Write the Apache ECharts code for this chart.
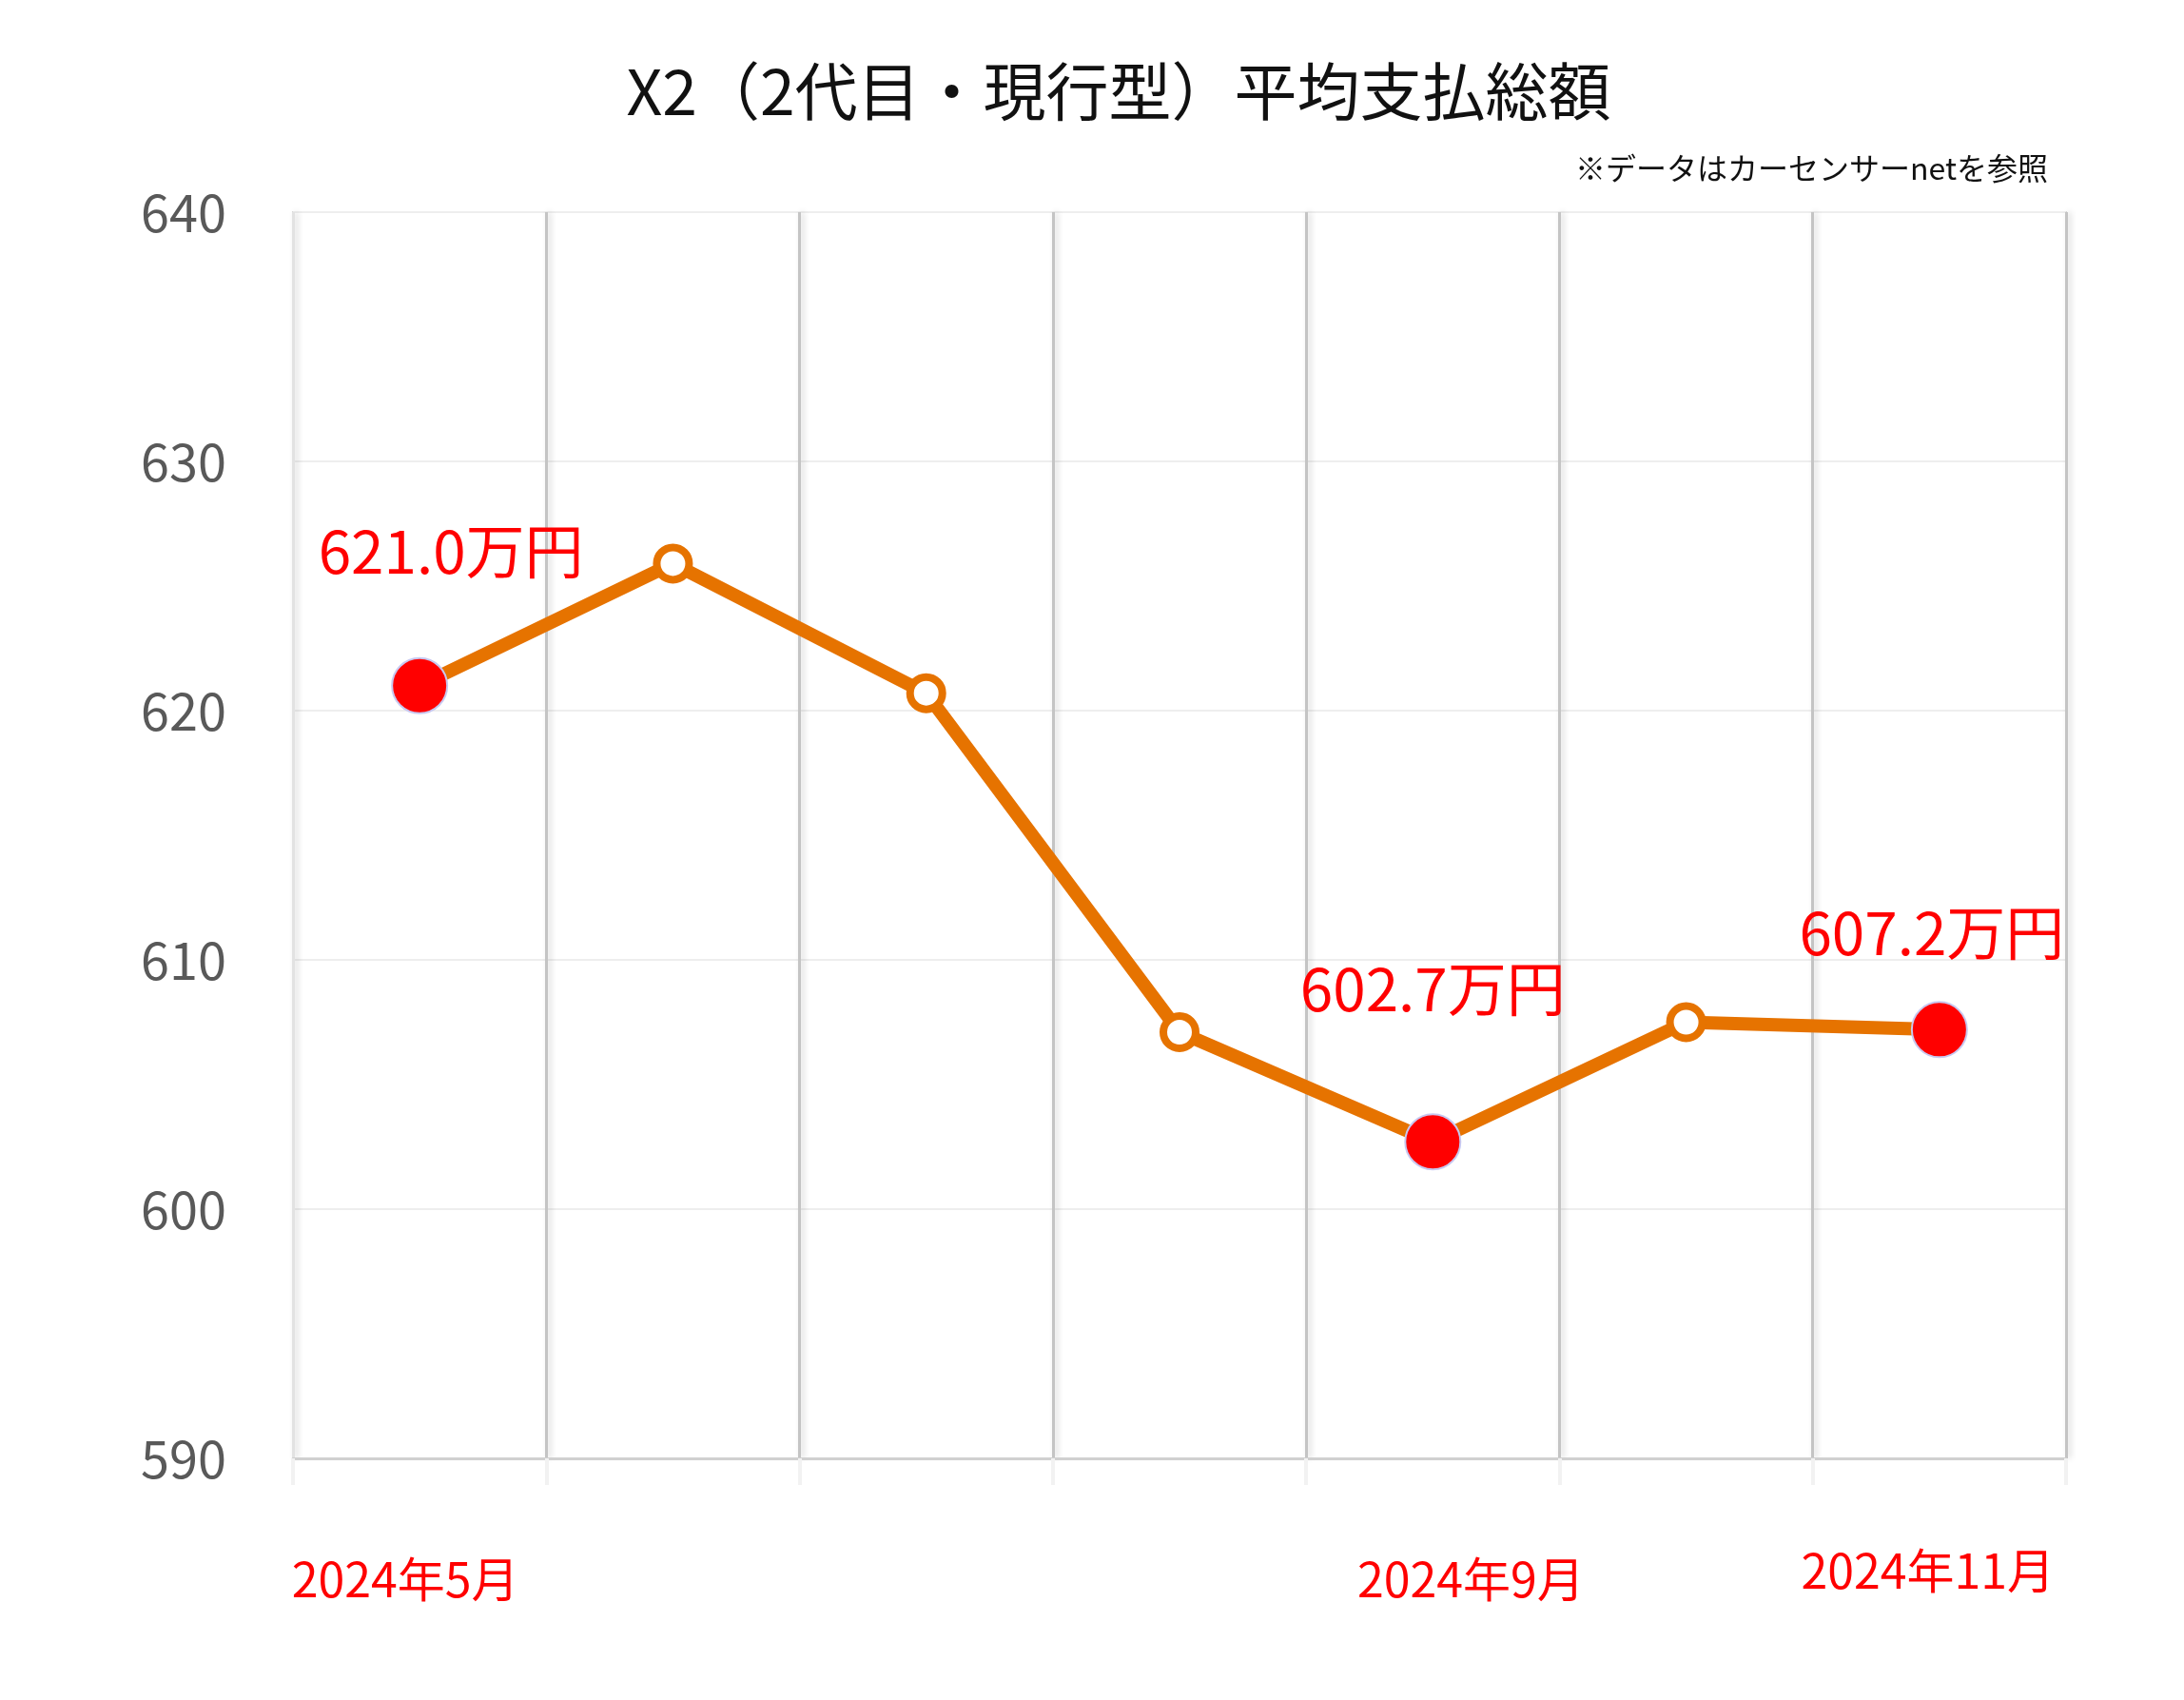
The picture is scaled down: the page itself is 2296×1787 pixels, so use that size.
<!DOCTYPE html>
<html>
<head>
<meta charset="utf-8">
<script src="https://cdn.jsdelivr.net/npm/echarts@6/dist/echarts.min.js"></script>
<style>
  html, body { margin: 0; padding: 0; background: #fff; }
  #main { width: 2296px; height: 1787px; }
</style>
</head>
<body>
<div id="main"></div>
<script>
// データ
const months = ['2024年5月', '2024年6月', '2024年7月', '2024年8月', '2024年9月', '2024年10月', '2024年11月'];
const shownMonths = ['2024年5月', '2024年9月', '2024年11月'];
const totals = [621.0, 625.9, 620.7, 607.1, 602.7, 607.5, 607.2];
const highlighted = [0, 4, 6];
const labelOffsets = { 0: [33, -75], 4: [0, -95], 6: [-8, -36] };
// x軸ラベルのずらし（rich の padding で調整）
const monthStyles = { '2024年5月': 'm5', '2024年9月': 'm9', '2024年11月': 'm11' };

const FONT = '"Noto Sans CJK JP", "Noto Sans", sans-serif';
const ORANGE = '#E67300';

const seriesData = totals.map(function (v, i) {
  if (highlighted.indexOf(i) < 0) return v;
  return {
    value: v,
    symbolSize: 58,
    itemStyle: { color: '#FF0000', borderColor: '#c8c8f0', borderWidth: 2 },
    label: {
      show: true,
      position: 'top',
      offset: labelOffsets[i],
      formatter: function (p) { return p.value.toFixed(1) + '万円'; },
      color: '#FF0000',
      fontSize: 62,
      fontFamily: FONT
    }
  };
});

const xLabelBase = { color: '#FF0000', fontSize: 50, fontFamily: FONT };

let myChart = echarts.init(document.getElementById('main'));
myChart.setOption({
  backgroundColor: '#ffffff',
  animation: false,
  title: [{
    text: 'X2（2代目・現行型）平均支払総額',
    left: 1171,
    top: 58,
    textAlign: 'center',
    textStyle: { fontFamily: FONT, fontSize: 66, fontWeight: 'normal', color: '#111' }
  }, {
    text: '※データはカーセンサーnetを参照',
    right: 138,
    top: 156,
    textStyle: { fontFamily: FONT, fontSize: 32, fontWeight: 'normal', color: '#111' }
  }],
  grid: {
    left: 308, right: 124, top: 223, bottom: 254,
    show: true, borderColor: '#dadada', borderWidth: 2
  },
  xAxis: {
    type: 'category',
    data: months,
    boundaryGap: true,
    axisLine: { show: true, lineStyle: { color: '#d0d0d0', width: 3 } },
    axisTick: { show: true, length: 28, lineStyle: { color: '#f2f2f2', width: 4 } },
    axisLabel: {
      interval: 0,
      margin: 93,
      formatter: function (v) {
        return monthStyles[v] ? '{' + monthStyles[v] + '|' + v + '}' : '';
      },
      rich: {
        m5: Object.assign({ padding: [9, 30, 0, 0] }, xLabelBase),
        m9: Object.assign({ padding: [9, 0, 0, 80] }, xLabelBase),
        m11: Object.assign({ padding: [0, 24, 0, 0] }, xLabelBase)
      }
    },
    splitLine: {
      show: true,
      interval: 0,
      lineStyle: {
        color: ['#e2e2e2', '#c4c4c4', '#c4c4c4', '#c4c4c4', '#c4c4c4', '#c4c4c4', '#c4c4c4', '#c4c4c4'],
        width: 3,
        shadowColor: 'rgba(0,0,0,0.18)',
        shadowBlur: 6,
        shadowOffsetX: 3
      }
    }
  },
  yAxis: {
    type: 'value',
    min: 590,
    max: 640,
    interval: 10,
    axisLine: { show: false },
    axisTick: { show: false },
    axisLabel: { color: '#595959', fontSize: 54, fontFamily: FONT, margin: 70, padding: [0, 0, 8, 0] },
    splitLine: { lineStyle: { color: '#eeeeee', width: 2 } }
  },
  series: [{
    type: 'line',
    data: seriesData,
    symbol: 'circle',
    symbolSize: 34,
    lineStyle: { color: ORANGE, width: 14 },
    itemStyle: { color: '#ffffff', borderColor: ORANGE, borderWidth: 8 },
    z: 5
  }]
});
</script>
</body>
</html>
